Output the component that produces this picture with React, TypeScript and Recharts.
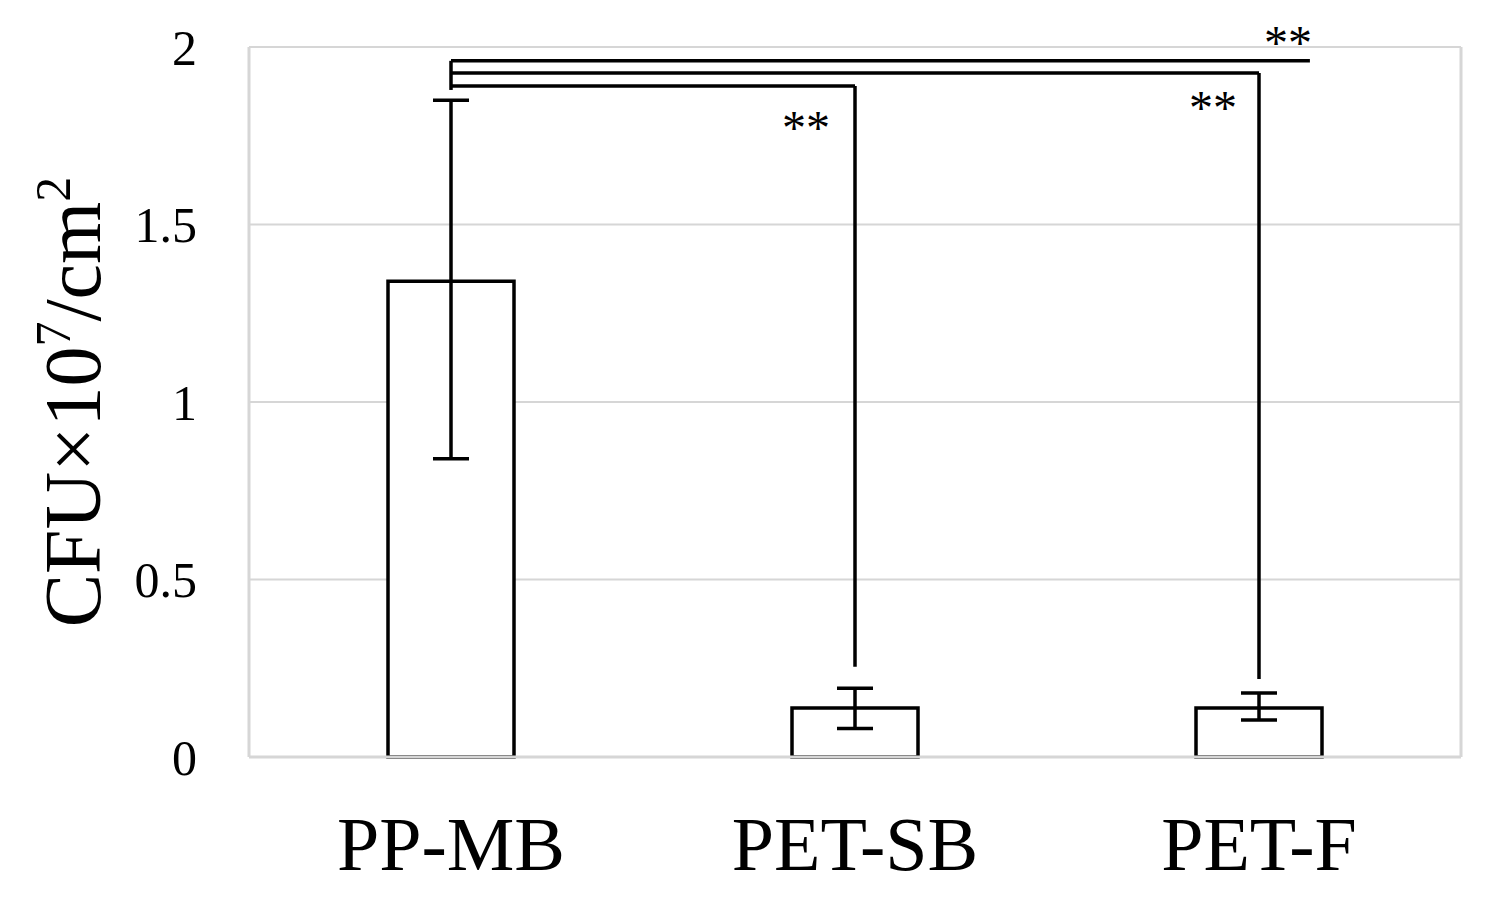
import React from 'react';
import {
  BarChart,
  Bar,
  XAxis,
  YAxis,
  CartesianGrid,
  ErrorBar,
  ReferenceLine,
  ReferenceDot,
  Label,
} from 'recharts';

// bar data
const categories = ['PP-MB', 'PET-SB', 'PET-F'];
const means = [1.34, 0.138, 0.138];
const errLow = [0.5, 0.058, 0.034];
const errHigh = [0.51, 0.056, 0.042];
const yTicks = [0, 0.5, 1, 1.5, 2];

// significance brackets (x on a 0..3 numeric scale, category centres at 0.5/1.5/2.5)
const catPos = [0.5, 1.5, 2.5];
const bracketY = [1.961, 1.927, 1.89];
const bracketEndX = [2.626, 2.5, 1.5];
const bracketDropTo = [null, 0.22, 0.254];
const bracketStartX = 0.5;
const bracketLeftDropTo = 1.879;
const starX = [2.572, 2.386, 1.379];
const starY = [2.034, 1.851, 1.794];

const FONT = '"Liberation Serif", "Times New Roman", serif';
const GRID = '#d6d6d6';
const LW = 3.5;

const data = categories.map((name, i) => ({
  name,
  pos: catPos[i],
  value: means[i],
  err: [errLow[i], errHigh[i]],
}));

const YLabel = ({ viewBox }: any) => {
  const cx = 100;
  const cy = viewBox.y + viewBox.height / 2;
  return (
    <text
      x={cx}
      y={cy}
      transform={`rotate(-90 ${cx} ${cy})`}
      textAnchor="middle"
      fontFamily={FONT}
      fontSize={80}
      fill="#000"
    >
      CFU×10
      <tspan dy={-30} fontSize={50}>7</tspan>
      <tspan dy={30}>/cm</tspan>
      <tspan dy={-30} fontSize={50}>2</tspan>
    </text>
  );
};

const Stars = ({ cx, cy }: any) => (
  <text
    x={cx}
    y={cy + 24}
    textAnchor="middle"
    fontFamily={FONT}
    fontSize={48}
    fill="#000"
  >
    **
  </text>
);

export default function App() {
  return (
    <div style={{ position: 'absolute', left: 0, top: 0, background: '#fff' }}>
      <BarChart
        width={1492}
        height={902}
        data={data}
        margin={{ top: 47, right: 31, bottom: 0, left: 0 }}
        barCategoryGap={0}
      >
        <CartesianGrid vertical={false} stroke={GRID} strokeWidth={2} />
        <XAxis
          dataKey="name"
          height={145}
          tickLine={false}
          axisLine={{ stroke: GRID, strokeWidth: 3 }}
          tickMargin={53}
          tick={{ fontFamily: FONT, fontSize: 76, fill: '#000' }}
        />
        <XAxis
          xAxisId="num"
          dataKey="pos"
          type="number"
          domain={[0, 3]}
          allowDataOverflow
          hide
        />
        <YAxis
          width={249}
          domain={[0, 2]}
          ticks={yTicks}
          tickLine={false}
          axisLine={{ stroke: GRID, strokeWidth: 3 }}
          tickMargin={46}
          tick={{ fontFamily: FONT, fontSize: 50, fill: '#000' }}
        >
          <Label content={<YLabel />} />
        </YAxis>
        <ReferenceLine xAxisId="num" x={3} stroke={GRID} strokeWidth={3} ifOverflow="visible" />
        <Bar
          dataKey="value"
          barSize={126}
          fill="#fff"
          stroke="#000"
          strokeWidth={LW}
          isAnimationActive={false}
        >
          <ErrorBar dataKey="err" width={18} stroke="#000" strokeWidth={LW} />
        </Bar>
        <ReferenceLine
          xAxisId="num"
          segment={[
            { x: bracketStartX, y: bracketY[0] },
            { x: bracketStartX, y: bracketLeftDropTo },
          ]}
          stroke="#000"
          strokeWidth={LW}
          ifOverflow="visible"
        />
        {bracketY.map((y, i) => (
          <ReferenceLine
            key={`h${i}`}
            xAxisId="num"
            segment={[
              { x: bracketStartX, y },
              { x: bracketEndX[i], y },
            ]}
            stroke="#000"
            strokeWidth={LW}
            ifOverflow="visible"
          />
        ))}
        {bracketY.map((y, i) =>
          bracketDropTo[i] == null ? null : (
            <ReferenceLine
              key={`v${i}`}
              xAxisId="num"
              segment={[
                { x: bracketEndX[i], y },
                { x: bracketEndX[i], y: bracketDropTo[i] as number },
              ]}
              stroke="#000"
              strokeWidth={LW}
              ifOverflow="visible"
            />
          )
        )}
        {starX.map((x, i) => (
          <ReferenceDot
            key={`s${i}`}
            xAxisId="num"
            x={x}
            y={starY[i]}
            r={0}
            ifOverflow="visible"
            shape={<Stars />}
          />
        ))}
      </BarChart>
    </div>
  );
}
